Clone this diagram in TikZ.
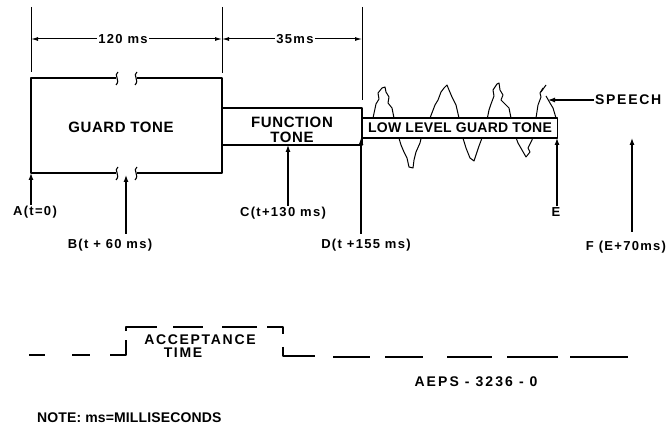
\documentclass[tikz,border=0pt]{standalone}
\usepackage{fontspec}
\setmainfont{Liberation Sans}
\usetikzlibrary{arrows.meta}
\newcommand{\lett}[2]{\fontsize{#1}{#1}\selectfont\bfseries\addfontfeature{LetterSpace=#2}}
\tikzstyle{box}=[draw=black, line width=1.6pt, fill=white, inner sep=0pt]
\tikzstyle{lbl}=[font=\lett{13}{10}, inner sep=1pt]
\tikzstyle{big}=[font=\lett{15}{4}, inner sep=1pt]
\tikzstyle{mid}=[font=\lett{14}{12}, inner sep=1pt]
\tikzstyle{marker}=[-{Latex[length=7pt,width=5pt]}, line width=1.2pt]
\tikzstyle{dim}=[{Latex[length=7pt,width=4pt]}-, line width=1pt]
\tikzstyle{brk}=[line width=1.1pt]
\tikzstyle{acc}=[line width=1.5pt]

\begin{document}
\begin{tikzpicture}[x=1pt, y=-1pt, line join=round]
	\useasboundingbox (0,0) rectangle (672,427);
	% time marks
	\coordinate (tA) at (31,173);
	\coordinate (tB) at (126,175);
	\coordinate (tC) at (288,145);
	\coordinate (tD) at (361,138);
	\coordinate (tE) at (557,138);
	\coordinate (tF) at (632,138);
	% extension lines
	\draw[line width=1pt] (31,7) -- (31,72);
	\draw[line width=1pt] (222,7) -- (222,73);
	\draw[line width=1pt] (362,7) -- (362,100);
	% dimensions
	\node[lbl] (d120) at (123,39) {120 ms};
	\node[lbl] (d35) at (295,39) {35ms};
	\coordinate (m0) at (31,39);
	\coordinate (m1) at (222,39);
	\coordinate (m2) at (362,39);
	\draw[dim] (m0) -- (d120.west);
	\draw[dim] (m1) -- (d120.east);
	\draw[dim] (m1) -- (d35.west);
	\draw[dim] (m2) -- (d35.east);
	% speech
	\draw[line width=1pt] (370,130) -- (373,118) -- (376,104) -- (379,99) -- (378,93) -- (382,88)
		-- (385,87) -- (386,92) -- (389,97) -- (388,103) -- (392,108) -- (394,118) -- (398,135)
		-- (401,145) -- (404,152) -- (407,158) -- (409,167) -- (413,168) -- (414,160) -- (416,152)
		-- (420,143) -- (423,130) -- (430,118) -- (435,105) -- (438,100) -- (441,92) -- (444,88)
		-- (447,85) -- (449,90) -- (452,97) -- (456,105) -- (459,118) -- (462,135) -- (466,148)
		-- (470,158) -- (474,161) -- (476,155) -- (479,146) -- (482,138) -- (486,125) -- (489,110)
		-- (491,104) -- (494,96) -- (493,90) -- (497,84) -- (499,83) -- (500,90) -- (503,95)
		-- (501,100) -- (505,104) -- (509,108) -- (511,118) -- (515,135) -- (518,143) -- (522,150)
		-- (526,157) -- (530,152) -- (528,148) -- (532,140) -- (535,128) -- (536,118) -- (538,105)
		-- (541,97) -- (540,93) -- (543,88);
	\draw[line width=1pt] (541,92) -- (546,85);
	\draw[line width=1pt] (546,96) -- (550,103) -- (553,108) -- (556,118);
	% guard tone
	\draw[line width=1.6pt] (116,78) -- (31,78) -- (31,173) -- (116,173);
	\draw[line width=1.6pt] (137,78) -- (222,78) -- (222,173) -- (137,173);
	\foreach \x in {118,137} {
		\draw[brk] (\x,72) .. controls (\x-5,75) and (\x+3,80) .. (\x-2,85);
		\draw[brk] (\x,167) .. controls (\x-5,170) and (\x+3,175) .. (\x-2,180);
	}
	\node[big] (guard) at (121,127.5) {GUARD TONE};
	% function tone
	\node[box, minimum width=140pt, minimum height=37pt] (fn) at (292,126.5) {};
	\node[big, align=center] (fnt) at ([yshift=-3.5pt]fn.center) {FUNCTION\\TONE};
	% low level guard tone
	\node[box, minimum width=195pt, minimum height=20pt, font=\lett{14}{2}] (low) at (460,128) {LOW LEVEL GUARD TONE};
	% speech label
	\node[mid, anchor=west] (speech) at (594,100) {SPEECH};
	\coordinate (sp) at (548,100);
	\draw[marker] (speech.west) -- (sp);
	% marks
	\node[lbl] (lA) at (35,212) {A(t=0)};
	\node[lbl] (lB) at (110,245) {B(t + 60 ms)};
	\node[lbl] (lC) at (283,213) {C(t+130 ms)};
	\node[lbl] (lD) at (366,245) {D(t +155 ms)};
	\node[lbl] (lE) at (556,212) {E};
	\node[lbl] (lF) at (626,247) {F (E+70ms)};
	\draw[marker] (lA.north -| tA) -- (tA);
	\draw[marker] (lB.north -| tB) ++(0,-4) -- (tB);
	\draw[marker] (lC.north -| tC) -- (tC);
	\draw[marker] (lD.north -| tD) ++(0,-4) -- (tD);
	\draw[marker] (lE.north -| tE) -- (tE);
	\draw[marker] (lF.north -| tF) ++(0,-8) -- (tF);
	% acceptance time
	\foreach \a/\b in {29/45, 72/90}
		\draw[acc] (\a,355) -- (\b,355);
	\draw[acc] (110,355) -- (126,355) -- (126,340);
	\draw[acc] (126,331) -- (126,327) -- (157,327);
	\draw[acc] (173,327) -- (203,327);
	\draw[acc] (222,327) -- (257,327);
	\draw[acc] (267,327) -- (283,327) -- (283,334);
	\draw[acc] (283,347) -- (283,356) -- (315,356);
	\foreach \a/\b in {333/370, 385/423, 447/492, 507/558, 570/628}
		\draw[acc] (\a,357) -- (\b,357);
	\node[mid] (acct) at (200,340) {ACCEPTANCE};
	\node[mid] (time) at (183,353) {TIME};
	\node[mid, font=\lett{14}{15}] (aeps) at (476,382) {AEPS - 3236 - 0};
	\node[mid, font=\lett{14}{1}, anchor=west] (note) at (36,418) {NOTE: ms=MILLISECONDS};
\end{tikzpicture}
\end{document}
